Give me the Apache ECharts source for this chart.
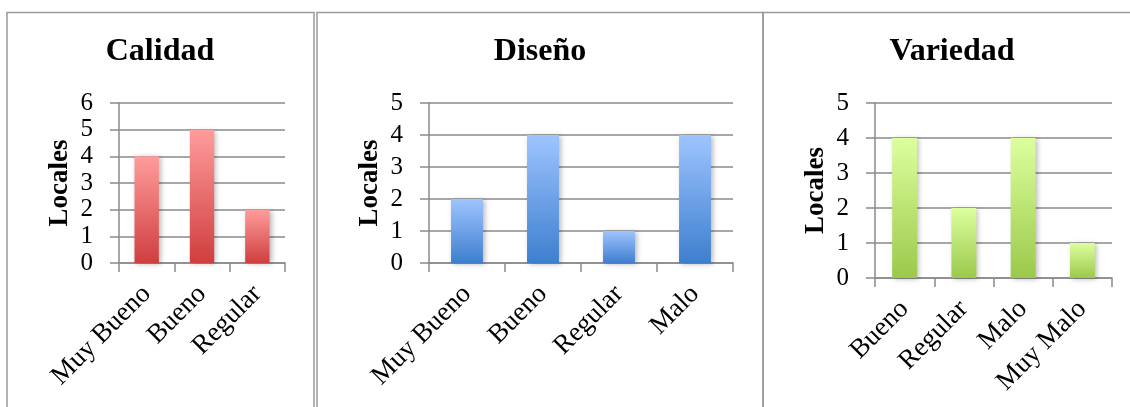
<!DOCTYPE html>
<html>
<head>
<meta charset="utf-8">
<title>Locales</title>
<script src="https://cdn.jsdelivr.net/npm/echarts@6/dist/echarts.min.js"></script>
<style>
  html, body { margin: 0; padding: 0; background: #fff; }
  #chart { width: 1130px; height: 407px; }
</style>
</head>
<body>
<div id="chart"></div>
<script>
// Survey results: number of shops (locales) per rating
const calidadCategories = ['Muy Bueno', 'Bueno', 'Regular'];
const calidadValues = [4, 5, 2];

const disenoCategories = ['Muy Bueno', 'Bueno', 'Regular', 'Malo'];
const disenoValues = [2, 4, 1, 4];

const variedadCategories = ['Bueno', 'Regular', 'Malo', 'Muy Malo'];
const variedadValues = [4, 2, 4, 1];

const panelTitles = ['Calidad', 'Diseño', 'Variedad'];
const yAxisName = 'Locales';
const yAxisMax = [6, 5, 5];

const FONT = '"Liberation Serif", "Times New Roman", serif';
const GRID_COLOR = '#8a8a8a';

const panels = [
  { cats: calidadCategories, vals: calidadValues, grid: { left: 119, top: 103, width: 166, height: 160 }, barWidth: '44%',
    colors: ['#ff9c9c', '#d03e3e'], titleX: 160 },
  { cats: disenoCategories, vals: disenoValues, grid: { left: 429, top: 103, width: 304, height: 160 }, barWidth: '42%',
    colors: ['#9ec4ff', '#3d7fcf'], titleX: 540 },
  { cats: variedadCategories, vals: variedadValues, grid: { left: 875, top: 103, width: 237, height: 175 }, barWidth: '42%',
    colors: ['#dcff9e', '#9bc94a'], titleX: 952 }
];

const chart = echarts.init(document.getElementById('chart'), null, { renderer: 'canvas' });

const option = {
  animation: false,
  backgroundColor: '#ffffff',
  title: panels.map((p, i) => ({
    text: panelTitles[i],
    left: p.titleX,
    top: 36,
    textAlign: 'center',
    padding: 0,
    textStyle: { fontFamily: FONT, fontSize: 32, fontWeight: 'bold', color: '#000' }
  })),
  grid: panels.map(p => Object.assign({ containLabel: false }, p.grid)),
  xAxis: panels.map((p, i) => ({
    type: 'category',
    gridIndex: i,
    data: p.cats,
    boundaryGap: true,
    axisLine: { show: true, lineStyle: { color: GRID_COLOR, width: 1.5 } },
    axisTick: { show: true, length: 9, lineStyle: { color: GRID_COLOR, width: 1.5 } },
    axisLabel: {
      rotate: 45,
      margin: 27,
      interval: 0,
      fontFamily: FONT,
      fontSize: 27,
      color: '#000'
    }
  })),
  yAxis: panels.map((p, i) => ({
    type: 'value',
    gridIndex: i,
    min: 0,
    max: yAxisMax[i],
    interval: 1,
    name: yAxisName,
    nameLocation: 'middle',
    nameGap: 45,
    nameTextStyle: { fontFamily: FONT, fontSize: 27, fontWeight: 'bold', color: '#000' },
    axisLine: { show: true, lineStyle: { color: GRID_COLOR, width: 1.5 } },
    axisTick: { show: true, length: 9, lineStyle: { color: GRID_COLOR, width: 1.5 } },
    splitLine: { show: true, lineStyle: { color: GRID_COLOR, width: 1.5 } },
    axisLabel: { margin: 26, fontFamily: FONT, fontSize: 25, color: '#000' }
  })),
  series: panels.map((p, i) => ({
    type: 'bar',
    xAxisIndex: i,
    yAxisIndex: i,
    data: p.vals,
    barWidth: p.barWidth,
    itemStyle: {
      color: new echarts.graphic.LinearGradient(0, 0, 0, 1, [
        { offset: 0, color: p.colors[0] },
        { offset: 1, color: p.colors[1] }
      ]),
      shadowColor: 'rgba(0,0,0,0.28)',
      shadowBlur: 5,
      shadowOffsetX: 2,
      shadowOffsetY: 1
    }
  })),
  graphic: [
    { type: 'rect', shape: { x: 7, y: 12.5, width: 307, height: 420 }, style: { fill: 'none', stroke: '#9a9a9a', lineWidth: 1.5 }, z: -1 },
    { type: 'rect', shape: { x: 317, y: 12.5, width: 446, height: 420 }, style: { fill: 'none', stroke: '#9a9a9a', lineWidth: 1.5 }, z: -1 },
    { type: 'rect', shape: { x: 763, y: 12.5, width: 420, height: 420 }, style: { fill: 'none', stroke: '#9a9a9a', lineWidth: 1.5 }, z: -1 }
  ]
};

chart.setOption(option);
</script>
</body>
</html>
